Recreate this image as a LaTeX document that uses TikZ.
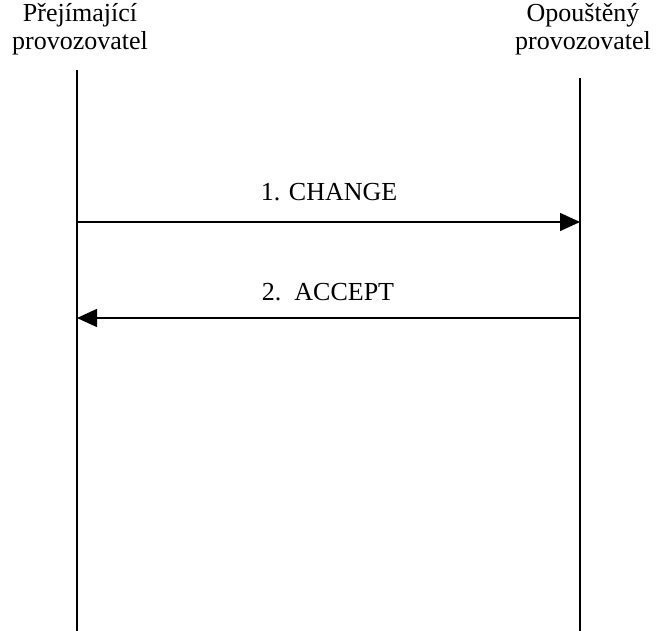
\documentclass[tikz,border=0pt]{standalone}
\usepackage{fontspec}
\setmainfont{Liberation Serif}
\usetikzlibrary{arrows.meta}
\begin{document}
\begin{tikzpicture}[x=1pt,y=-1pt,
  lbl/.style={font=\fontsize{26}{28}\selectfont,inner sep=0pt,anchor=base,align=center},
  life/.style={line width=1.5pt},
  msg/.style={line width=1.5pt,-{Triangle[length=20pt,width=18pt]}}]
\useasboundingbox (0,0) rectangle (656,631);
\node[lbl] (tl) at (80,22) {Přejímající};
\node[lbl] (tl2) at (80,50) {provozovatel};
\node[lbl] (tr) at (583,22) {Opouštěný};
\node[lbl] (tr2) at (583,50) {provozovatel};
\coordinate (a1) at (77,70);
\coordinate (a2) at (77,631);
\coordinate (b1) at (580,78);
\coordinate (b2) at (580,631);
\draw[life] (a1) -- (a2);
\draw[life] (b1) -- (b2);
\coordinate (m1s) at (77,222);
\coordinate (m1e) at (580,222);
\coordinate (m2s) at (580,318);
\coordinate (m2e) at (77,318);
\draw[msg] (m1s) -- (m1e);
\draw[msg] (m2s) -- (m2e);
\node[lbl] (l1) at (329,201) {1. CHANGE};
\node[lbl] (l2) at (328,300) {2.\ \ ACCEPT};
\end{tikzpicture}
\end{document}
